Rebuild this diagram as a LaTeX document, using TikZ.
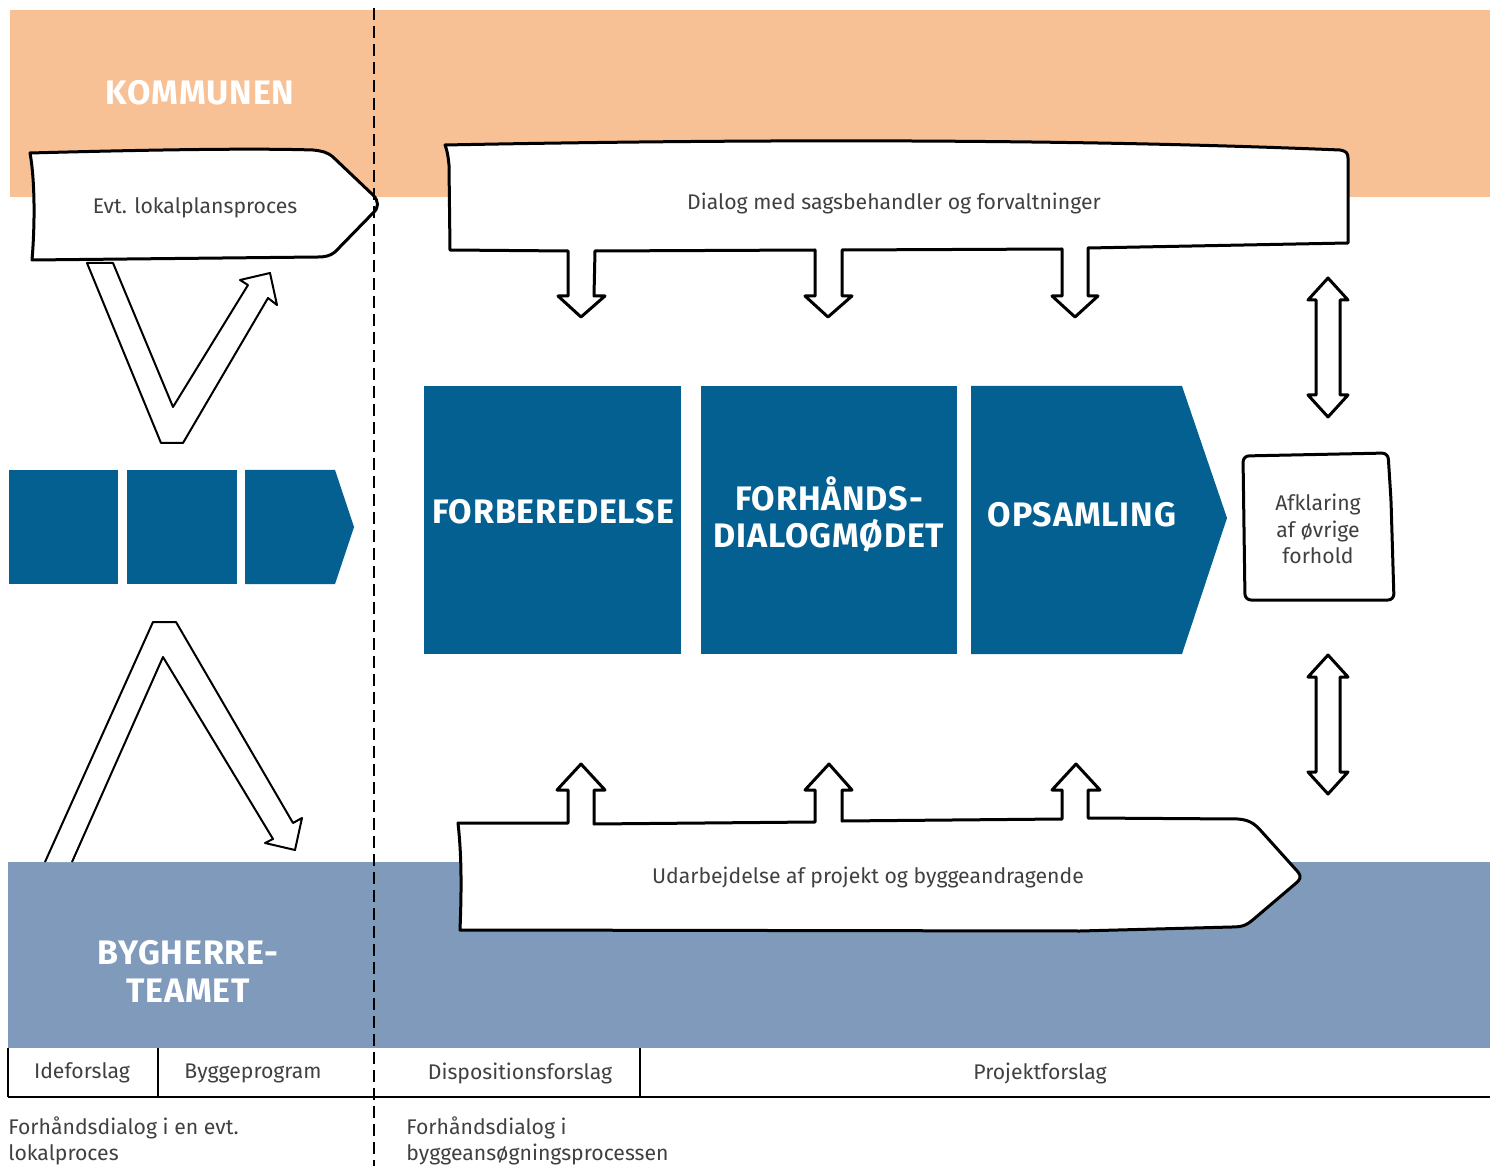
\documentclass[tikz,border=0pt]{standalone}
\usepackage{fontspec}
\setmainfont{Fira Sans}
\definecolor{kommorange}{RGB}{248,192,149}
\definecolor{bygblue}{RGB}{127,154,187}
\definecolor{fasblue}{RGB}{3,96,144}
\definecolor{txtgray}{RGB}{64,64,64}
\tikzset{
  sketch/.style={draw=black,line width=1.5pt,fill=white,line join=round},
  thinsketch/.style={draw=black,line width=1pt,fill=white,line join=round},
  boxtext/.style={text=txtgray,font=\fontsize{10.6}{13.2}\selectfont,align=center,inner sep=0pt},
  fastext/.style={text=white,font=\fontsize{17}{18.5}\selectfont\bfseries\addfontfeatures{LetterSpace=2.5},align=center,inner sep=0pt},
  bandtext/.style={text=white,font=\fontsize{17}{19}\selectfont\bfseries\addfontfeatures{LetterSpace=2.5},align=center,inner sep=0pt},
}
\begin{document}
\begin{tikzpicture}[x=0.5pt,y=-0.5pt]
\useasboundingbox (0,0) rectangle (1490,1166);

% baand
\fill[kommorange] (10,10) rectangle (1490,197);
\fill[bygblue] (8,862) rectangle (1490,1048);
\node[bandtext] (kommunen) at (200,93) {KOMMUNEN};
\node[bandtext] (bygherre) at (188,971) {BYGHERRE-\\TEAMET};

% V-pil under lokalplan
\draw[thinsketch] (87,263) -- (161,443) -- (183,443) -- (268,298) -- (277,305)
  -- (270,273) -- (240,280) -- (248,285) -- (173,407) -- (113,263) -- cycle;
% pil fra bygherre
\draw[thinsketch] (45,862) -- (153,622) -- (176,622) -- (293,823) -- (302,818)
  -- (295,850) -- (265,843) -- (273,839) -- (163,657) -- (72,862);

% lokalplansproces
\draw[sketch] (30,153) .. controls (140,150) and (250,148) .. (313,150)
  .. controls (322,151) and (327,152) .. (333,157) -- (373,195)
  .. controls (379,201) and (379,208) .. (373,213) -- (335,252)
  .. controls (330,256) and (325,257) .. (318,257) -- (32,260)
  .. controls (35,225) and (35,180) .. cycle;
\node[boxtext] (lokalplan) at (195,208) {Evt. lokalplansproces};

% smaa faser
\fill[fasblue] (9,470) rectangle (118,584);
\fill[fasblue] (127,470) rectangle (237,584);
\fill[fasblue] (245,470) -- (335,470) -- (354,527) -- (335,584) -- (245,584) -- cycle;

% store faser
\fill[fasblue] (424,386) rectangle (681,654);
\fill[fasblue] (701,386) rectangle (957,654);
\fill[fasblue] (971,386) -- (1182,386) -- (1227,518) -- (1182,654) -- (971,654) -- cycle;
\node[fastext] (forb) at (553,512) {FORBEREDELSE};
\node[fastext] (moede) at (829,514) {FORHÅNDS-\\DIALOGMØDET};
\node[fastext] (opsaml) at (1082,515) {OPSAMLING};

% dialog med pile ned
\draw[sketch] (445,145) .. controls (800,138) and (1100,140) .. (1340,150)
  .. controls (1346,151) and (1348,153) .. (1348,158) -- (1348,243)
  -- (1088,248) -- (1088,296) -- (1098,296) -- (1075,317) -- (1052,296) -- (1062,296)
  -- (1062,249) -- (842,250) -- (842,296) -- (852,296) -- (828,317) -- (805,296) -- (815,296)
  -- (815,250) -- (595,251) -- (594,296) -- (605,296) -- (581,317) -- (558,296) -- (568,296)
  -- (568,251) -- (450,250) -- (449,165) .. controls (448,155) and (447,150) .. cycle;
\node[boxtext] (dialog) at (894,203) {Dialog med sagsbehandler og forvaltninger};

% udarbejdelse med pile op
\draw[sketch] (458,823) -- (568,823) -- (568,790) -- (557,790) -- (581,764) -- (605,790)
  -- (594,790) -- (594,824) -- (815,822) -- (815,790) -- (805,790) -- (829,764) -- (852,790)
  -- (842,790) -- (842,821) -- (1062,819) -- (1062,790) -- (1052,790) -- (1076,764) -- (1100,790)
  -- (1088,790) -- (1088,818) -- (1238,819) .. controls (1250,820) and (1255,824) .. (1262,832)
  -- (1298,872) .. controls (1302,877) and (1300,880) .. (1295,884) -- (1255,918)
  .. controls (1247,925) and (1243,927) .. (1232,927) -- (1080,931) -- (460,930)
  .. controls (462,880) and (461,850) .. cycle;
\node[boxtext] (udarb) at (868,877) {Udarbejdelse af projekt og byggeandragende};

% dobbeltpile
\foreach \yy in {278,655}{
  \draw[sketch] (1328,\yy) -- (1348,\yy+22) -- (1340,\yy+22) -- (1340,\yy+117) -- (1348,\yy+117)
    -- (1328,\yy+139) -- (1308,\yy+117) -- (1316,\yy+117) -- (1316,\yy+22) -- (1308,\yy+22) -- cycle;
}

% afklaring
\draw[sketch,rounded corners=3pt] (1245,600) -- (1243,456) -- (1388,453) -- (1391,500)
  -- (1394,600) -- cycle;
\node[boxtext] (afklaring) at (1318,529) {Afklaring\\af øvrige\\forhold};

% tabel
\draw[line width=0.8pt] (8,1097) -- (1490,1097);
\draw[line width=0.8pt] (8,1048) -- (8,1097);
\draw[line width=0.8pt] (158,1048) -- (158,1097);
\draw[line width=0.8pt] (640,1048) -- (640,1097);
\node[boxtext] (ide) at (82,1073) {Ideforslag};
\node[boxtext] (program) at (253,1073) {Byggeprogram};
\node[boxtext] (dispo) at (520,1073) {Dispositionsforslag};
\node[boxtext] (projekt) at (1040,1073) {Projektforslag};

\node[boxtext,align=left,anchor=north west] (lokaldialog) at (8,1116) {Forhåndsdialog i en evt.\\lokalproces};
\node[boxtext,align=left,anchor=north west] (byggdialog) at (406,1116) {Forhåndsdialog i\\byggeansøgningsprocessen};

% skillelinje
\draw[line width=1.4pt,dash pattern=on 6pt off 3pt] (374,8) -- (374,1166);
\end{tikzpicture}
\end{document}
